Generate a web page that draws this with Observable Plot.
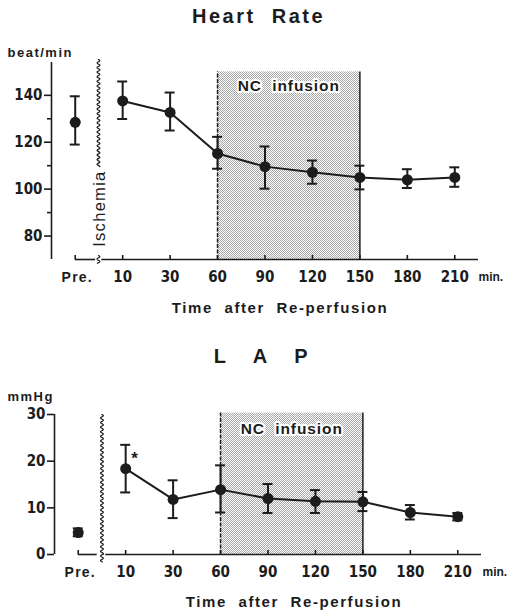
<!DOCTYPE html>
<html><head><meta charset="utf-8">
<script src="https://cdn.jsdelivr.net/npm/d3@7"></script>
<script src="https://cdn.jsdelivr.net/npm/@observablehq/plot@0.6"></script>
<style>
body{margin:0;background:#fff;width:508px;height:612px;overflow:hidden}
#c svg{display:block}
</style></head><body>
<svg width="0" height="0" style="position:absolute"><defs>
<pattern id="stip" width="2" height="2" patternUnits="userSpaceOnUse">
<rect width="2" height="2" fill="#fff"/><rect width="1" height="1" fill="#a6a6a6"/><rect x="1" y="1" width="1" height="1" fill="#a6a6a6"/>
</pattern></defs></svg>
<div id="c"></div>
<script>
// ---- data ----
const timeLabels = ["Pre.", "10", "30", "60", "90", "120", "150", "180", "210"];
const hrMean = [128.5, 137.6, 132.7, 115.2, 109.6, 107.2, 105.0, 104.0, 105.0];
const hrLow  = [119.0, 129.9, 125.0, 108.7, 100.2, 102.3, 99.9, 100.5, 101.0];
const hrHigh = [139.6, 145.9, 141.2, 122.3, 118.2, 112.2, 110.0, 108.5, 109.3];
const lapMean = [4.7, 18.4, 11.8, 13.9, 12.0, 11.4, 11.3, 9.0, 8.1];
const lapLow  = [3.9, 13.3, 7.8, 9.0, 8.9, 8.9, 9.3, 7.5, 7.3];
const lapHigh = [5.6, 23.5, 15.9, 19.1, 15.1, 13.8, 13.4, 10.6, 8.9];
const hrTicks = [80, 100, 120, 140];
const hrMinorTicks = [90, 110, 130];
const lapTicks = [0, 10, 20, 30];
const infusion = ["60", "150"];
const significant = ["10"]; // LAP * marker

const NUM = "'DejaVu Sans Condensed', 'DejaVu Sans', sans-serif";
const SANS = "'Liberation Sans', Arial, Helvetica, sans-serif";
const INK = "#1c1c1c";
// letter spacing applied after rendering (Plot text has no letterSpacing option)
const SPACING = {"Heart  Rate": 2.5, "L   A   P": 2.8, "Time  after  Re-perfusion": 1.6,
  "NC  infusion": 0.9, "beat/min": 1.5, "mmHg": 1.5, "Pre.": 1.2, "Ischemia": 1.3};

function rows(mean, low, high) {
  return timeLabels.map((t, i) => ({i, t, mean: mean[i], low: low[i], high: high[i]}));
}

// decorative wavy break line (in index/value units)
function wave(xc, v0, v1, pxX, pxY) {
  const n = Math.max(2, Math.round(Math.abs(v1 - v0) * pxY * 2));
  return d3.range(n + 1).map(k => {
    const py = k / 2;
    return {x: xc + (1.4 / pxX) * Math.sin(2 * Math.PI * py / 4.6), y: v0 + (v1 - v0) * k / n};
  });
}

function chart(cfg) {
  const data = rows(cfg.mean, cfg.low, cfg.high);
  const after = data.filter(d => d.i > 0);
  const pre = data.filter(d => d.i === 0);
  const [ymin, ymax] = cfg.ydomain;
  const i0 = timeLabels.indexOf(infusion[0]), i1 = timeLabels.indexOf(infusion[1]);
  const fw = cfg.width - cfg.ml - cfg.mr, fh = cfg.height - cfg.mt - cfg.mb;
  const pxX = fw / 9, pxY = fh / (ymax - ymin);
  const T = {fontFamily: SANS, fontWeight: "bold", fill: INK, lineAnchor: "middle"};
  const marks = [
    Plot.rect([0], {x1: i0, x2: i1, y1: ymin, y2: cfg.shadeTop, fill: "url(#stip)"}),
    Plot.ruleX([i0], {y1: ymin, y2: cfg.shadeTop, stroke: INK, strokeWidth: 1.5, strokeDasharray: "4,1.5"}),
    Plot.ruleX([i1], {y1: ymin, y2: cfg.shadeTop, stroke: INK, strokeWidth: 1.5}),
    Plot.text(["NC  infusion"], {...T, x: (i0 + i1) / 2, y: cfg.ncY, fontSize: 15.5, stroke: "white", strokeWidth: 4}),
    // y axis line
    Plot.ruleX([-0.5], {stroke: INK, strokeWidth: 1.6}),
    Plot.axisY({ticks: cfg.yticks, tickSize: 7, tickPadding: 2, label: null, fontFamily: NUM, fontWeight: "bold", fontSize: 15, stroke: INK, strokeWidth: 1.6, fill: INK}),
    // x axis line with break
    Plot.ruleY([ymin], {x1: 0, x2: cfg.gap[0], stroke: INK, strokeWidth: 1.6}),
    Plot.ruleY([ymin], {x1: cfg.gap[1], x2: 8.5, stroke: INK, strokeWidth: 1.6}),
    Plot.ruleX(data, {x: "i", y1: ymin, y2: ymin + 4 / pxY, stroke: INK, strokeWidth: 1.6}),
    // x labels
    Plot.text(after, {...T, x: "i", text: "t", frameAnchor: "bottom", dy: cfg.labDy, fontFamily: NUM, fontSize: 15}),
    Plot.text(pre, {...T, x: "i", text: "t", frameAnchor: "bottom", dy: cfg.labDy, dx: 2, fontSize: 14}),
    Plot.text(["min."], {...T, frameAnchor: "bottom-right", textAnchor: "start", dx: cfg.minDx, dy: cfg.labDy, fontSize: 12}),
    Plot.text(["Time  after  Re-perfusion"], {...T, frameAnchor: "bottom", dx: cfg.timeDx, dy: cfg.timeDy, fontSize: 15}),
    // unit + title
    Plot.text([cfg.unit], {...T, frameAnchor: "top-left", textAnchor: "start", dx: cfg.unitDx, dy: cfg.unitDy, fontSize: 13}),
    Plot.text([cfg.title], {...T, frameAnchor: "top", dx: cfg.titleDx, dy: cfg.titleDy, fontSize: 20}),
    // ischemia break
    Plot.line(wave(cfg.breakX, cfg.waveTop[0], cfg.waveTop[1], pxX, pxY), {x: "x", y: "y", stroke: INK, strokeWidth: 1.2, curve: "linear"}),
    Plot.line(wave(cfg.breakX, cfg.waveBot[0], cfg.waveBot[1], pxX, pxY), {x: "x", y: "y", stroke: INK, strokeWidth: 1.2, curve: "linear"}),
    // data
    Plot.ruleX(data, {x: "i", y1: "low", y2: "high", stroke: INK, strokeWidth: 2}),
    Plot.ruleY(data, {y: "low", x1: d => d.i - 0.105, x2: d => d.i + 0.105, stroke: INK, strokeWidth: 2}),
    Plot.ruleY(data, {y: "high", x1: d => d.i - 0.105, x2: d => d.i + 0.105, stroke: INK, strokeWidth: 2}),
    Plot.line(after, {x: "i", y: "mean", stroke: INK, strokeWidth: 2}),
    Plot.dot(data, {x: "i", y: "mean", r: 5.5, fill: INK, stroke: "none"})
  ];
  if (cfg.minor) {
    marks.push(Plot.axisY({ticks: cfg.minor, tickSize: 4, tickFormat: () => "", label: null, stroke: INK, strokeWidth: 1.6}));
  }
  if (cfg.ischemia) {
    marks.push(Plot.text(["Ischemia"], {x: cfg.breakX, y: cfg.ischemiaY, rotate: -90, dx: 1, fontFamily: SANS, fontSize: 16.5, fill: INK}));
  }
  if (cfg.star) {
    marks.push(Plot.text(data.filter(d => significant.includes(d.t)), {x: "i", y: "mean", text: () => "*", dx: 9, dy: -10, fontFamily: SANS, fontWeight: "bold", fontSize: 17, fill: INK}));
  }
  const svg = Plot.plot({
    width: cfg.width, height: cfg.height,
    marginTop: cfg.mt, marginBottom: cfg.mb, marginLeft: cfg.ml, marginRight: cfg.mr,
    x: {domain: [-0.5, 8.5], axis: null},
    y: {domain: cfg.ydomain, axis: null},
    style: {background: "white", color: INK, overflow: "visible"},
    marks
  });
  d3.select(svg).selectAll("text").each(function () {
    const ls = SPACING[this.textContent];
    if (ls != null) this.style.letterSpacing = ls + "px";
  });
  return svg;
}

const hrChart = chart({
  width: 508, height: 315, mt: 62, mb: 56, ml: 51, mr: 30,
  mean: hrMean, low: hrLow, high: hrHigh,
  ydomain: [70, 154], yticks: hrTicks, minor: hrMinorTicks, shadeTop: 150, ncY: 143.8,
  gap: [0.43, 0.56], breakX: 0.49,
  waveTop: [155.3, 109.6], waveBot: [71.7, 68.4],
  ischemia: true, ischemiaY: 91.7,
  labDy: 18, minDx: 0, timeDx: 15, timeDy: 49,
  unit: "beat/min", unitDx: -44, unitDy: -9.3,
  title: "Heart  Rate", titleDx: -6.5, titleDy: -46
});

const lapChart = chart({
  width: 508, height: 297, mt: 99, mb: 58, ml: 54, mr: 27,
  mean: lapMean, low: lapLow, high: lapHigh,
  ydomain: [0, 30], yticks: lapTicks, shadeTop: 30.3, ncY: 26.85,
  gap: [0.4, 0.58], breakX: 0.5,
  waveTop: [30, -1.6], waveBot: [0, 0],
  ischemia: false, star: true,
  labDy: 17.7, minDx: 1, timeDx: 26, timeDy: 47.7,
  unit: "mmHg", unitDx: -47, unitDy: -18,
  title: "L   A   P", titleDx: -6, titleDy: -58
});

document.getElementById("c").append(hrChart, lapChart);
</script>
</body></html>
